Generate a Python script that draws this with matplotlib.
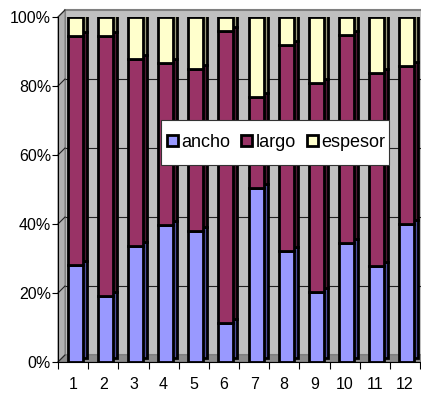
import numpy as np
import matplotlib
matplotlib.use("Agg")
import matplotlib.pyplot as plt
import matplotlib.transforms as mtransforms
from matplotlib.patches import Polygon, Rectangle

plt.rcParams['font.family'] = ['Liberation Sans', 'DejaVu Sans']

categories = [str(i) for i in range(1, 13)]
ancho = [28.0, 19.0, 33.6, 39.7, 38.0, 11.3, 50.4, 32.2, 20.3, 34.5, 27.8, 40.0]
largo = [66.5, 75.5, 54.2, 46.9, 47.0, 84.7, 26.4, 59.8, 60.5, 60.3, 56.0, 45.8]
espesor = [5.5, 5.5, 12.2, 13.4, 15.0, 4.0, 23.2, 8.0, 19.2, 5.2, 16.2, 14.2]

series_names = ["ancho", "largo", "espesor"]
face_colors = ["#9999FF", "#993366", "#FFFFCC"]
side_colors = ["#4D4D99", "#4D1A33", "#99997A"]

W, H = 421, 395
fig = plt.figure(figsize=(W / 100, H / 100), dpi=100)
# front plane of the 3-D box, in pixels
x0, x1, yb, yt = 58, 420, 362, 17
ax = fig.add_axes([x0 / W, 1 - yb / H, (x1 - x0) / W, (yb - yt) / H])
ax.patch.set_visible(False)

depth = 7  # pixel depth of the box
dx = depth / (x1 - x0)
dy = depth / (yb - yt)

# walls and floor
ax.add_patch(Polygon([(dx, dy), (1 + dx, dy), (1 + dx, 1 + dy), (dx, 1 + dy)],
                     closed=True, transform=ax.transAxes, facecolor="#C0C0C0",
                     edgecolor="#808080", lw=1.5, clip_on=False, zorder=0))
ax.add_patch(Polygon([(0, 0), (dx, dy), (dx, 1 + dy), (0, 1)],
                     closed=True, transform=ax.transAxes, facecolor="#B2B2B2",
                     edgecolor="#808080", lw=0.8, clip_on=False, zorder=0.5))
ax.add_patch(Polygon([(0, 0), (1, 0), (1 + dx, dy), (dx, dy)],
                     closed=True, transform=ax.transAxes, facecolor="#8C8C8C",
                     edgecolor="#808080", lw=0.8, clip_on=False, zorder=0.5))

ax.set_xlim(0.5, len(categories) + 0.5)
ax.set_ylim(0, 100)

# gridlines on the back wall plus the short diagonal connectors
back = mtransforms.offset_copy(ax.transData, fig=fig, x=depth, y=depth, units="dots")
levels = [20, 40, 60, 80]
ax.hlines(levels, 0.5, len(categories) + 0.5, colors="#222222", lw=0.8,
          transform=back, clip_on=False, zorder=0.6)
for lv in [0, 20, 40, 60, 80, 100]:
    ax.plot([0, dx], [lv / 100, lv / 100 + dy], color="#222222", lw=0.8,
            transform=ax.transAxes, clip_on=False, zorder=0.6)

x = np.arange(1, len(categories) + 1)
values = [np.array(ancho), np.array(largo), np.array(espesor)]
total = sum(values)
pct = [v / total * 100 for v in values]

front = mtransforms.offset_copy(ax.transData, fig=fig, x=2, y=0, units="dots")
side = mtransforms.offset_copy(ax.transData, fig=fig, x=6, y=4, units="dots")
width = 0.5

bottom = np.zeros(len(x))
for p, sc in zip(pct, side_colors):
    ax.bar(x, p, width, bottom=bottom, color=sc, edgecolor="black", lw=2,
           transform=side, zorder=2)
    bottom = bottom + p

bottom = np.zeros(len(x))
handles = []
for p, fc, name in zip(pct, face_colors, series_names):
    b = ax.bar(x, p, width, bottom=bottom, color=fc, edgecolor="black", lw=2,
               transform=front, zorder=3, label=name)
    handles.append(b)
    bottom = bottom + p

for s in ["top", "right"]:
    ax.spines[s].set_visible(False)
ax.spines["left"].set_color("black")
ax.spines["bottom"].set_color("black")
ax.spines["left"].set_zorder(1)

ax.set_yticks([0, 20, 40, 60, 80, 100])
ax.set_yticklabels(["0%", "20%", "40%", "60%", "80%", "100%"], fontsize=11.5)
ax.tick_params(axis="y", length=4, width=0.8, pad=1)

ax.set_xticks(np.arange(0.5, len(categories) + 1, 1))
ax.set_xticklabels([])
ax.tick_params(axis="x", which="major", length=5, width=0.8, direction="out")
ax.set_xticks(x, minor=True)
ax.set_xticklabels(categories, minor=True, fontsize=11.5)
ax.tick_params(axis="x", which="minor", length=0, pad=11)

# legend box
fig.patches.append(Rectangle((161 / W, 1 - 165 / H), 228 / W, 45 / H,
                             transform=fig.transFigure, facecolor="white",
                             edgecolor="#333333", lw=0.8, zorder=9))
leg = fig.legend(handles=handles, labels=series_names, loc="center",
                 bbox_to_anchor=(276 / W, 1 - 142.5 / H), ncol=3, fontsize=13,
                 frameon=False, handlelength=0.6, handleheight=0.6,
                 handletextpad=0.2, columnspacing=0.6, borderpad=0,
                 borderaxespad=0)
leg.set_zorder(10)

fig.savefig("out.png", dpi=100)
